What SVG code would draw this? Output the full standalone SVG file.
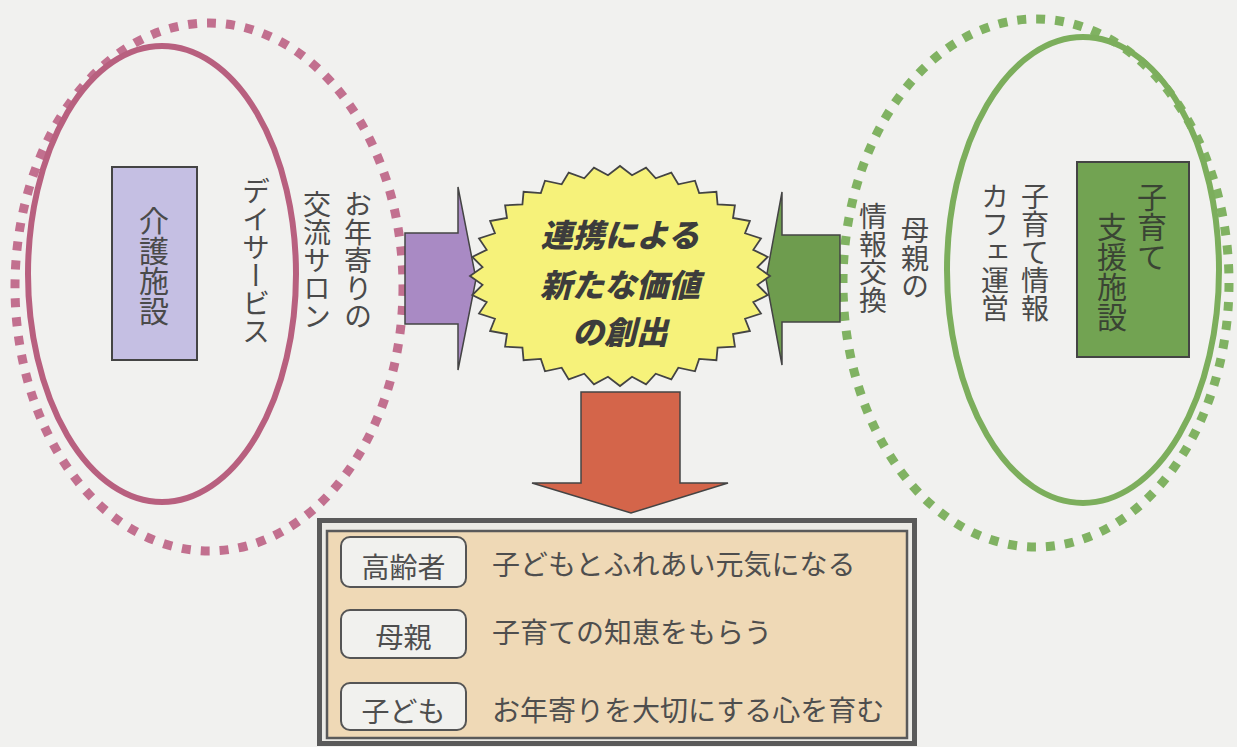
<svg xmlns="http://www.w3.org/2000/svg" width="1237" height="747" viewBox="0 0 1237 747">
<style>
.t{font-family:"Noto Sans CJK JP","Noto Sans",sans-serif;fill:#4a4a4a}
.v{writing-mode:vertical-rl}
.f28{font-size:28px}
.f30{font-size:30px}
.lbl{font-family:"Noto Sans CJK JP",sans-serif;font-size:28px;fill:#4e4e4e}
.pill{fill:#f1f1ee;stroke:#555;stroke-width:2}
.burst{font-family:"Noto Sans CJK JP",sans-serif;font-size:32px;font-weight:900;font-style:italic;fill:#3c3c3c;text-anchor:middle}
.ar{stroke:#444;stroke-width:1.5;stroke-linejoin:miter}
</style>
<rect width="1237" height="747" fill="#f1f1ef"/>

<g id="left-group">
  <ellipse cx="209" cy="287" rx="194" ry="264" fill="none" stroke="#c2708f" stroke-width="9" stroke-dasharray="9 10"/>
  <ellipse cx="162" cy="274" rx="134" ry="228" fill="none" stroke="#b8607f" stroke-width="6"/>
  <g id="kaigo">
    <rect x="112" y="167" width="85" height="193" fill="#c5bfe3" stroke="#444" stroke-width="2"/>
    <text class="t v f30" x="154" y="206" fill="#3c3c3c">介護施設</text>
  </g>
  <text class="t v f28" x="256" y="177">デイサービス</text>
  <text class="t v f28" x="317" y="190">交流サロン</text>
  <text class="t v f28" x="358" y="190">お年寄りの</text>
</g>

<g id="right-group">
  <ellipse cx="1036" cy="283" rx="193" ry="264" fill="none" stroke="#80b262" stroke-width="9" stroke-dasharray="9 10"/>
  <ellipse cx="1083" cy="270" rx="136" ry="233" fill="none" stroke="#7cae5c" stroke-width="6"/>
  <g id="kosodate">
    <rect x="1077" y="162" width="112" height="195" fill="#72a352" stroke="#444" stroke-width="2"/>
    <text class="t v f30" x="1152" y="182" style="fill:#3a4434">子育て</text>
    <text class="t v f30" x="1112" y="212" style="fill:#3a4434">支援施設</text>
  </g>
  <text class="t v f28" x="1035" y="182">子育て情報</text>
  <text class="t v f28" x="995" y="182">カフェ運営</text>
  <text class="t v f28" x="915" y="216">母親の</text>
  <text class="t v f28" x="873" y="202">情報交換</text>
</g>

<g id="connectors">
  <polygon class="ar" fill="#a98ac4" points="405,233 458,233 458,187 476,279 458,370 458,324 405,324"/>
  <polygon class="ar" fill="#6e9c4e" points="840,235 782,235 782,192 766,279 782,365 782,322 840,322"/>
  <polygon class="ar" fill="#d4654a" points="581,392 680,392 680,483 728,483 631,513 532,483 581,483"/>
</g>

<g id="burst">
  <polygon transform="translate(620,276) scale(1.5,1.1)" fill="#f6f27a" stroke="#444" stroke-width="1.8" vector-effect="non-scaling-stroke" points="100,0 91.65,-8.02 98.48,-17.36 88.87,-23.81 93.97,-34.2 83.38,-38.88 86.6,-50 75.36,-52.77 76.6,-64.28 65.05,-65.05 64.28,-76.6 52.77,-75.36 50,-86.6 38.88,-83.38 34.2,-93.97 23.81,-88.87 17.36,-98.48 8.02,-91.65 0,-100 -8.02,-91.65 -17.36,-98.48 -23.81,-88.87 -34.2,-93.97 -38.88,-83.38 -50,-86.6 -52.77,-75.36 -64.28,-76.6 -65.05,-65.05 -76.6,-64.28 -75.36,-52.77 -86.6,-50 -83.38,-38.88 -93.97,-34.2 -88.87,-23.81 -98.48,-17.36 -91.65,-8.02 -100,0 -91.65,8.02 -98.48,17.36 -88.87,23.81 -93.97,34.2 -83.38,38.88 -86.6,50 -75.36,52.77 -76.6,64.28 -65.05,65.05 -64.28,76.6 -52.77,75.36 -50,86.6 -38.88,83.38 -34.2,93.97 -23.81,88.87 -17.36,98.48 -8.02,91.65 0,100 8.02,91.65 17.36,98.48 23.81,88.87 34.2,93.97 38.88,83.38 50,86.6 52.77,75.36 64.28,76.6 65.05,65.05 76.6,64.28 75.36,52.77 86.6,50 83.38,38.88 93.97,34.2 88.87,23.81 98.48,17.36 91.65,8.02"/>
  <text class="burst" x="620" y="247">連携による</text>
  <text class="burst" x="620" y="297">新たな価値</text>
  <text class="burst" x="620" y="344">の創出</text>
</g>

<g id="result-box">
  <rect x="319.5" y="520.5" width="595" height="223" fill="#ecebe6" stroke="#5a5a5a" stroke-width="5"/>
  <rect x="327" y="531" width="580" height="207" fill="#efd9b6" stroke="#5a5a5a" stroke-width="2.5"/>
  <g id="row1">
    <rect class="pill" x="341" y="537" width="125" height="50" rx="9"/>
    <text class="lbl" x="403.5" y="578" text-anchor="middle">高齢者</text>
    <text class="lbl" x="492" y="575">子どもとふれあい元気になる</text>
  </g>
  <g id="row2">
    <rect class="pill" x="341" y="610" width="125" height="48" rx="9"/>
    <text class="lbl" x="403.5" y="648" text-anchor="middle">母親</text>
    <text class="lbl" x="492" y="643">子育ての知恵をもらう</text>
  </g>
  <g id="row3">
    <rect class="pill" x="341" y="683" width="125" height="47" rx="9"/>
    <text class="lbl" x="403.5" y="722" text-anchor="middle">子ども</text>
    <text class="lbl" x="492" y="721">お年寄りを大切にする心を育む</text>
  </g>
</g>
</svg>
